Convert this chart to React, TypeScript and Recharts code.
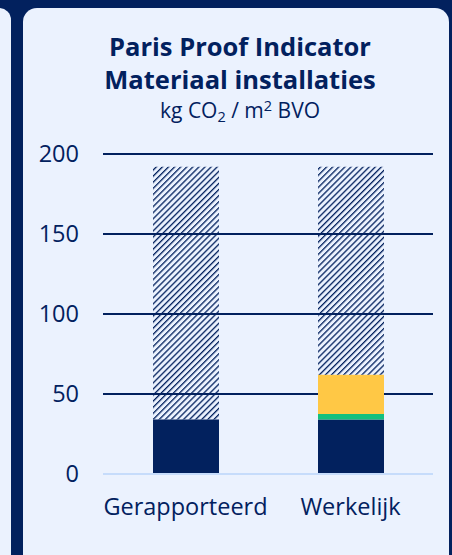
import React from 'react'
import { BarChart, Bar, XAxis, YAxis, CartesianGrid } from 'recharts'

const categories = ['Gerapporteerd', 'Werkelijk']
const reported = [34, 34]
const circular = [0, 3.5]
const extra = [0, 24.5]
const remaining = [158, 130]
const yTicks = [0, 50, 100, 150, 200]

const NAVY = '#02215e'
const CARD = '#ebf2fe'
const FONT = '"Open Sans", "Noto Sans", sans-serif'

const data = categories.map((name, i) => ({
  name,
  reported: reported[i],
  circular: circular[i],
  extra: extra[i],
  remaining: remaining[i],
}))

function YTick({ y, payload }: any) {
  return (
    <text x={79} y={y} dy={8} textAnchor="end" fill={NAVY} fontSize={23.5} fontFamily={FONT}>
      {payload.value}
    </text>
  )
}

function XTick({ x, payload }: any) {
  return (
    <text x={x} y={515} textAnchor="middle" fill={NAVY} fontSize={23.5} fontFamily={FONT}>
      {payload.value}
    </text>
  )
}

export default function App() {
  return (
    <div style={{ position: 'fixed', left: 0, top: 0, width: 452, height: 555, background: NAVY, overflow: 'hidden' }}>
      <div style={{ position: 'absolute', left: -30, top: 8, width: 41, height: 600, background: CARD, borderRadius: 12 }} />
      <div style={{ position: 'absolute', left: 23, top: 8, width: 426, height: 600, background: CARD, borderRadius: 14 }} />
      <svg width={452} height={130} style={{ position: 'absolute', left: 0, top: 0 }}>
        <text x={240} y={56} textAnchor="middle" fill={NAVY} fontSize={25.5} fontWeight={700} fontFamily={FONT}>
          Paris Proof Indicator
        </text>
        <text x={240} y={89} textAnchor="middle" fill={NAVY} fontSize={25.5} fontWeight={700} fontFamily={FONT}>
          Materiaal installaties
        </text>
        <text x={240} y={118} textAnchor="middle" fill={NAVY} fontSize={21} fontFamily={FONT}>
          kg CO<tspan fontSize={14.5} dy={4}>2</tspan>
          <tspan dy={-4}> / m</tspan>
          <tspan fontSize={14.5} dy={-7}>2</tspan>
          <tspan dy={7}> BVO</tspan>
        </text>
      </svg>
      <div style={{ position: 'absolute', left: 0, top: 0 }}>
        <BarChart
          width={452}
          height={555}
          data={data}
          margin={{ top: 154, right: 19, bottom: 51, left: 0 }}
          barSize={66}
        >
          <defs>
            <pattern id="hatch" width={4.3} height={4.3} patternUnits="userSpaceOnUse" patternTransform="rotate(45)">
              <rect x={0} y={0} width={1.3} height={4.3} fill={NAVY} />
            </pattern>
          </defs>
          <CartesianGrid vertical={false} horizontalValues={[50, 100, 150, 200]} stroke={NAVY} strokeWidth={2} />
          <XAxis
            dataKey="name"
            axisLine={{ stroke: '#c6dcfb', strokeWidth: 2 }}
            tickLine={false}
            tick={<XTick />}
            height={30}
          />
          <YAxis
            domain={[0, 200]}
            ticks={yTicks}
            axisLine={false}
            tickLine={false}
            tick={<YTick />}
            width={103}
          />
          <Bar dataKey="reported" stackId="a" fill={NAVY} isAnimationActive={false} />
          <Bar dataKey="circular" stackId="a" fill="#13c07e" isAnimationActive={false} />
          <Bar dataKey="extra" stackId="a" fill="#ffc845" isAnimationActive={false} />
          <Bar dataKey="remaining" stackId="a" fill="url(#hatch)" isAnimationActive={false} />
        </BarChart>
      </div>
    </div>
  )
}
